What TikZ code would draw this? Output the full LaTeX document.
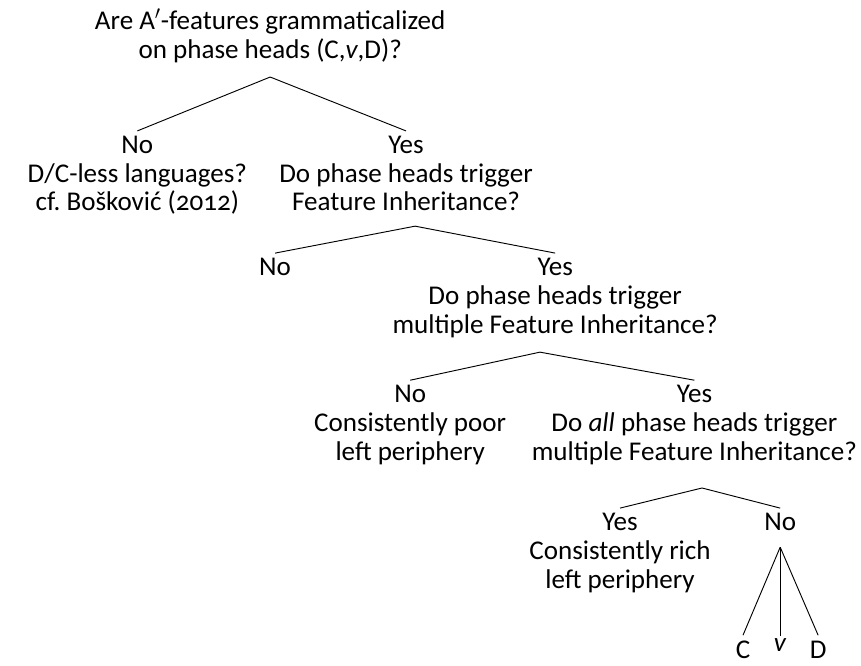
\documentclass[tikz,border=0pt]{standalone}
\usepackage{fontspec}
\setmainfont{Carlito}[Numbers=OldStyle]
\newcommand{\treefont}{\fontsize{20.3}{21.5}\selectfont}

\tikzset{
  lbl/.style={align=center, inner sep=0pt, outer ysep=2pt, anchor=north, font=\treefont},
  branch/.style={line width=0.7pt},
}

\begin{document}
\begin{tikzpicture}
  \useasboundingbox (0,0) rectangle (22.69,-17.53);

  % question at the top
  \node[lbl] (root) at (7.12,-0.16) {\strut Are A$'$-features grammaticalized\\ on phase heads (C,\textit{v},D)?};
  \coordinate (f1) at (7.12,-2.03);

  \node[lbl] (no1) at (3.62,-3.45) {\strut No\\ D/C-less languages?\\ cf.\ Bošković (2012)};
  \node[lbl] (yes1) at (10.70,-3.45) {\strut Yes\\ Do phase heads trigger\\ Feature Inheritance?};
  \draw[branch] (f1) -- (no1.north);
  \draw[branch] (f1) -- (yes1.north);

  % feature inheritance
  \coordinate (f2) at (10.94,-5.96);
  \node[lbl] (no2) at (7.25,-6.67) {\strut No};
  \node[lbl] (yes2) at (14.63,-6.67) {\strut Yes\\ Do phase heads trigger\\ multiple Feature Inheritance?};
  \draw[branch] (f2) -- (no2.north);
  \draw[branch] (f2) -- (yes2.north);

  % multiple feature inheritance
  \coordinate (f3) at (14.23,-9.28);
  \node[lbl] (no3) at (10.81,-10.02) {\strut No\\ Consistently poor\\ left periphery};
  \node[lbl] (yes3) at (18.30,-10.02) {\strut Yes\\ Do \textit{all} phase heads trigger\\ multiple Feature Inheritance?};
  \draw[branch] (f3) -- (no3.north);
  \draw[branch] (f3) -- (yes3.north);

  % all phase heads
  \coordinate (f4) at (18.50,-12.86);
  \node[lbl] (yes4) at (16.34,-13.39) {\strut Yes\\ Consistently rich\\ left periphery};
  \node[lbl] (no4) at (20.56,-13.39) {\strut No};
  \draw[branch] (f4) -- (yes4.north);
  \draw[branch] (f4) -- (no4.north);

  % the three heads
  \coordinate (f5) at (20.56,-14.42);
  \node[lbl] (hc) at (19.58,-16.76) {\strut C};
  \node[lbl] (hv) at (20.56,-16.56) {\strut\textit{v}};
  \node[lbl] (hd) at (21.56,-16.76) {\strut D};
  \draw[branch] (f5) -- ([yshift=0.02cm]hc.north);
  \draw[branch] (f5) -- ([yshift=-0.2cm]hv.north);
  \draw[branch] (f5) -- ([yshift=0.02cm]hd.north);
\end{tikzpicture}
\end{document}
